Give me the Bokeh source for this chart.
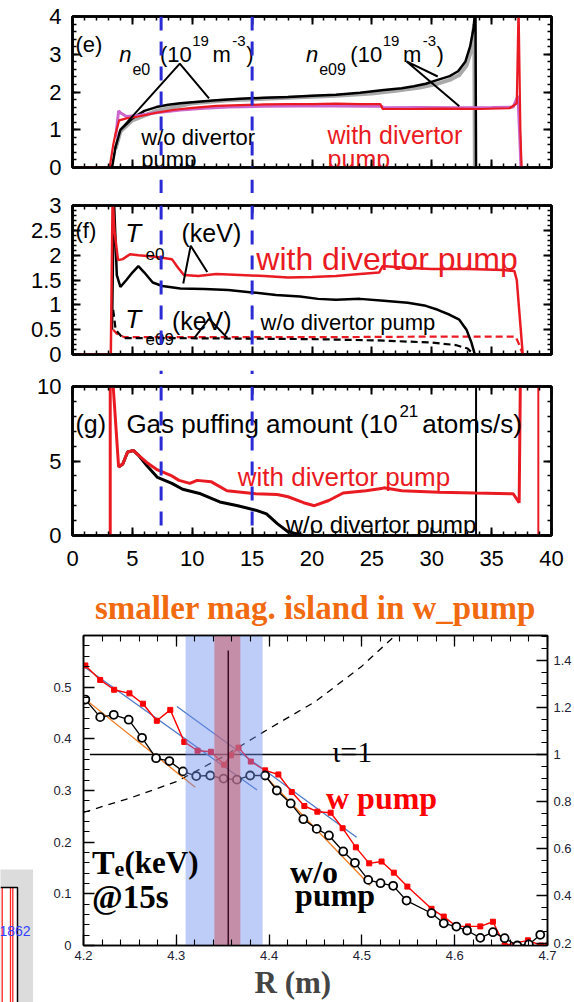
from bokeh.plotting import figure
from bokeh.models import (Range1d, LinearAxis, Span, SingleIntervalTicker,
                          CustomJSTickFormatter, Title, Spacer)
from bokeh.layouts import column, row
from bokeh.embed import file_html
from bokeh.resources import INLINE
from bokeh.core.properties import value

# ============================ DATA ============================
# ---- top panels: time traces, t in s ----
marker_times = [7.4, 15.0]                      # blue dashed time marks

# (e) line density n_e0 / n_e09 (10^19 m^-3)
ne0_wo_t = [3.3, 3.6, 4.0, 4.5, 5.0, 6.0, 7.0, 8.0, 9.0, 10.5, 12.0, 14.0, 16.0, 18.0, 20.0,
            22.0, 24.0, 26.0, 27.5, 28.5, 29.5, 30.5, 31.5, 32.2, 32.8, 33.2, 33.5, 33.65, 33.7]
ne0_wo = [0.0, 0.55, 1.0, 1.15, 1.3, 1.5, 1.6, 1.66, 1.7, 1.74, 1.78, 1.82, 1.85, 1.87, 1.9,
          1.93, 1.98, 2.05, 2.1, 2.15, 2.22, 2.32, 2.42, 2.55, 2.8, 3.2, 3.7, 4.3, 0.0]
ne09_wo_t = [3.6, 4.0, 5.0, 7.0, 10.0, 13.0, 16.0, 19.0, 22.0, 25.0, 27.0, 29.0, 30.5, 31.5,
             32.3, 32.9, 33.3, 33.55, 33.6]
ne09_wo = [0.5, 0.95, 1.25, 1.5, 1.7, 1.78, 1.82, 1.86, 1.9, 1.96, 2.03, 2.12, 2.22, 2.32,
           2.45, 2.7, 3.1, 3.8, 0.0]
ne0_w_t = [0.0, 3.1, 3.4, 3.6, 3.9, 4.5, 5.5, 7.0, 8.5, 10.0, 12.0, 14.0, 16.0, 18.0, 20.0,
           22.0, 24.0, 25.7, 25.9, 28.0, 31.0, 34.0, 36.5, 37.1, 37.25, 37.4, 37.5]
ne0_w = [0.0, 0.0, 0.6, 0.9, 1.25, 1.3, 1.35, 1.45, 1.53, 1.58, 1.63, 1.65, 1.67, 1.68, 1.68,
         1.69, 1.68, 1.68, 1.55, 1.55, 1.56, 1.55, 1.57, 1.7, 4.3, 1.0, 0.0]
ne09_w_t = [3.6, 3.85, 4.0, 4.5, 5.5, 7.0, 9.0, 11.0, 13.0, 16.0, 19.0, 22.0, 25.0, 25.8, 26.0,
            29.0, 32.0, 35.0, 36.8, 37.2, 37.35, 37.45]
ne09_w = [0.8, 1.5, 1.45, 1.35, 1.38, 1.45, 1.52, 1.57, 1.6, 1.62, 1.63, 1.63, 1.62, 1.62, 1.58,
          1.59, 1.58, 1.59, 1.6, 1.9, 0.8, 0.0]

# (f) electron temperature T_e0 / T_e09 (keV)
te0_w_t = [0.0, 3.2, 3.35, 3.5, 3.8, 4.2, 4.8, 5.5, 6.5, 7.5, 8.3, 8.8, 9.3, 10.5, 12.0, 14.0,
           16.0, 18.0, 20.0, 22.0, 24.0, 25.6, 25.9, 27.5, 30.0, 33.0, 36.0, 36.9, 37.1, 37.6]
te0_w = [0.0, 0.0, 3.2, 2.5, 1.9, 1.92, 2.02, 2.0, 1.98, 1.95, 1.92, 1.75, 1.6, 1.58, 1.62, 1.6,
         1.58, 1.55, 1.56, 1.58, 1.62, 1.65, 1.78, 1.75, 1.72, 1.72, 1.7, 1.68, 1.5, 0.0]
te0_wo_t = [3.3, 3.45, 3.7, 4.0, 4.5, 5.0, 5.5, 6.0, 6.7, 7.5, 9.0, 11.0, 13.0, 15.0, 17.0, 19.0,
            20.5, 22.0, 24.0, 26.0, 28.0, 29.5, 30.5, 31.5, 32.3, 32.9, 33.3, 33.6]
te0_wo = [0.5, 3.2, 1.6, 1.36, 1.5, 1.65, 1.78, 1.65, 1.45, 1.38, 1.33, 1.32, 1.3, 1.25, 1.2, 1.17,
          1.12, 1.1, 1.12, 1.08, 1.04, 0.98, 0.9, 0.8, 0.7, 0.5, 0.25, 0.0]
te09_w_t = [3.4, 3.7, 4.3, 8.0, 15.0, 22.0, 30.0, 37.0, 37.3, 37.6]
te09_w = [0.5, 0.42, 0.35, 0.35, 0.35, 0.35, 0.36, 0.36, 0.2, 0.0]
te09_wo_t = [3.4, 3.6, 4.2, 8.0, 14.0, 20.0, 26.0, 30.0, 32.0, 33.0, 33.5]
te09_wo = [0.9, 0.5, 0.33, 0.33, 0.32, 0.31, 0.28, 0.24, 0.19, 0.12, 0.0]

# (g) gas puffing amount (10^21 atoms/s)
gas_w_t = [3.15, 3.15, 3.4, 3.85, 4.2, 4.6, 5.1, 5.5, 6.2, 7.1, 8.3, 8.9, 9.8, 10.4, 11.6, 12.9,
           15.3, 17.1, 18.0, 19.3, 20.2, 21.4, 22.6, 24.5, 25.8, 26.0, 27.5, 30.6, 33.6, 36.8,
           37.3, 37.4]
gas_w = [0.0, 10.5, 10.0, 4.6, 4.8, 5.6, 5.7, 5.4, 4.9, 4.4, 4.0, 3.7, 3.5, 3.7, 3.6, 3.0,
         2.8, 2.75, 2.6, 2.2, 2.0, 2.35, 2.85, 3.0, 3.15, 3.2, 3.0, 2.9, 2.85, 2.8, 2.2, 10.5]
gas_w_stop_t = [38.9, 38.9]
gas_w_stop = [0.0, 10.5]
gas_wo_t = [3.85, 4.2, 4.6, 5.1, 5.5, 6.2, 7.1, 8.3, 9.2, 10.7, 12.3, 13.8, 15.3, 16.2, 17.1,
            18.0, 19.3]
gas_wo = [4.6, 4.8, 5.6, 5.7, 5.4, 4.7, 3.9, 3.5, 3.1, 2.8, 2.25, 2.0, 1.7, 1.45, 0.8, 0.25, 0.0]
gas_wo_stop_t = [33.7, 33.7]
gas_wo_stop = [0.0, 10.5]

# ---- bottom panel: Te profile at 15 s vs R (m) ----
wpump_R = [4.202, 4.218, 4.233, 4.2495, 4.264, 4.279, 4.2935, 4.3086, 4.3229, 4.3373, 4.3516,
           4.3588, 4.367, 4.3803, 4.3957, 4.41, 4.4244, 4.438, 4.452, 4.4663, 4.4792, 4.4935,
           4.5079, 4.5212, 4.5344, 4.549, 4.575, 4.5882, 4.6018, 4.6143, 4.6276, 4.6412,
           4.6538, 4.6789, 4.6932, 4.7]
wpump_Te = [0.542, 0.514, 0.495, 0.488, 0.468, 0.435, 0.456, 0.394, 0.377, 0.375, 0.350, 0.368,
            0.383, 0.356, 0.339, 0.331, 0.297, 0.270, 0.259, 0.257, 0.227, 0.190, 0.159, 0.1625,
            0.141, 0.114, 0.071, 0.056, 0.037, 0.037, 0.037, 0.046, 0.0, 0.010, 0.0, 0.0]
wopump_R = [4.202, 4.218, 4.2326, 4.2487, 4.2631, 4.2782, 4.2925, 4.3072, 4.3215, 4.3366, 4.3509,
            4.3653, 4.3796, 4.3957, 4.4083, 4.4233, 4.4369, 4.4513, 4.4645, 4.4799, 4.4925,
            4.5068, 4.5201, 4.5337, 4.5481, 4.575, 4.5882, 4.6018, 4.6133, 4.6276, 4.6412,
            4.6538, 4.6674, 4.6799, 4.6922]
wopump_Te = [0.476, 0.442, 0.4465, 0.437, 0.402, 0.3625, 0.357, 0.337, 0.328, 0.329, 0.323, 0.321,
             0.329, 0.329, 0.300, 0.275, 0.2445, 0.2257, 0.213, 0.182, 0.160, 0.127, 0.1206,
             0.1155, 0.087, 0.0625, 0.043, 0.0367, 0.029, 0.0148, 0.0258, 0.0142, 0.0, 0.002,
             0.0207]
# linear gradient fits
fit_w_a_R, fit_w_a_Te = [4.19, 4.387], [0.553, 0.301]
fit_w_b_R, fit_w_b_Te = [4.3007, 4.4943], [0.4626, 0.2097]
fit_wo_a_R, fit_wo_a_Te = [4.19, 4.3204], [0.4935, 0.3064]
fit_wo_b_R, fit_wo_b_Te = [4.394, 4.509], [0.331, 0.116]
# rotational transform profile (right axis)
iota_R = [4.2, 4.25, 4.3, 4.35, 4.4, 4.45, 4.5, 4.54]
iota = [0.755, 0.815, 0.885, 0.99, 1.11, 1.225, 1.375, 1.52]
iota_res = 1.0
iota_res_R = [4.207, 4.7]
# magnetic islands (R extent) and resonance position
island_wo = [4.31, 4.393]
island_w = [4.341, 4.369]
resonance_R = 4.356
resonance_top = 0.571

# ============================ STYLE ============================
SANS = "Liberation Sans"
SERIF = "Liberation Serif"
BLACK = "#000000"
RED = "#ea1a22"
GRAY = "#a9a9a9"
VIOLET = "#cc66cc"
DASHBLUE = "#2b2bd6"
fmt = CustomJSTickFormatter(code="return String(Math.round(tick*1000)/1000);")
blank = CustomJSTickFormatter(code="return '';")


def style_axis(ax, labels, size="22px", standoff=11, major_in=8, minor_in=4, lw=2.5,
               font=SANS, color=BLACK, tw=2.0, mtw=1.5):
    ax.axis_line_width = lw
    ax.major_tick_in = major_in
    ax.major_tick_out = 0
    ax.minor_tick_in = minor_in
    ax.minor_tick_out = 0
    ax.major_tick_line_width = tw
    ax.minor_tick_line_width = mtw
    if labels:
        ax.major_label_text_font = font
        ax.major_label_text_font_size = size
        ax.major_label_text_color = color
        ax.major_label_standoff = standoff
        ax.formatter = fmt
    else:
        ax.formatter = blank
        ax.major_label_text_font_size = "1px"
        ax.major_label_standoff = 0


def panel(width, height, border_left, border_top, border_bottom, y_end, y_step, x_labels):
    p = figure(width=width, height=height, x_range=Range1d(0, 40), y_range=Range1d(0, y_end),
               x_axis_location=None, y_axis_location=None, toolbar_location=None,
               output_backend="svg", min_border_left=border_left, min_border_right=23,
               min_border_top=border_top, min_border_bottom=border_bottom, title=None)
    p.grid.visible = False
    p.outline_line_color = BLACK
    p.outline_line_width = 2.5
    yt = SingleIntervalTicker(interval=y_step, num_minor_ticks=5)
    xt = SingleIntervalTicker(interval=5, num_minor_ticks=5)
    for side, lab in (("left", True), ("right", False)):
        ax = LinearAxis(ticker=yt)
        style_axis(ax, lab, standoff=11)
        p.add_layout(ax, side)
    for side, lab in (("below", x_labels), ("above", False)):
        ax = LinearAxis(ticker=xt)
        style_axis(ax, lab, standoff=15)
        p.add_layout(ax, side)
    return p


def add_marks(p):
    for t in marker_times:
        p.add_layout(Span(location=t, dimension="height", line_color=DASHBLUE,
                          line_width=3, line_dash="14 11", level="overlay"))


def txt(p, x, y, s, size, color=BLACK, font=SANS, style="normal", y_range_name="default"):
    p.text(x=[x], y=[y], text=[s], text_font=value(font), text_font_size=value(size),
           text_color=color, text_font_style=value(style), text_baseline=value("alphabetic"),
           text_align=value("left"), y_range_name=y_range_name)


def blank_fig(w, h, xr=None, bl=0, br=0, fill="white"):
    f = figure(width=w, height=h, x_range=xr if xr is not None else Range1d(0, w),
               y_range=Range1d(0, h), x_axis_location=None, y_axis_location=None,
               toolbar_location=None, output_backend="svg", min_border=0, min_border_left=bl,
               min_border_right=br, min_border_top=0, min_border_bottom=0, title=None,
               background_fill_color=fill, border_fill_color=fill)
    f.grid.visible = False
    f.outline_line_color = None
    return f


def gap_fig(h):
    g = blank_fig(574, h, xr=Range1d(0, 40), bl=72, br=23)
    add_marks(g)
    return g


# ---------------- panel (e) ----------------
fe = panel(560, 179, 58, 16, 12, 4, 1, False)
fe.line(ne09_wo_t, ne09_wo, line_color=GRAY, line_width=4)
fe.line(ne0_wo_t, ne0_wo, line_color=BLACK, line_width=2.5)
fe.line(ne09_w_t, ne09_w, line_color=VIOLET, line_width=3)
fe.line(ne0_w_t, ne0_w, line_color=RED, line_width=2.2)
fe.line([4.08, 8.96, 11.4], [1.03, 2.75, 1.83], line_color=BLACK, line_width=2)
fe.line([30.5, 27.9, 32.3], [2.41, 2.81, 1.62], line_color=BLACK, line_width=2)
txt(fe, 0.25, 3.25, "(e)", "22px")
for x0, sub in ((3.9, "e0"), (19.5, "e09")):
    txt(fe, x0, 3.0, "n", "22px", style="italic")
    txt(fe, x0 + 1.1, 2.62, sub, "16px")
for x0 in (7.3, 23.2):
    txt(fe, x0, 3.0, "(10", "22px")
    txt(fe, x0 + 2.7, 3.35, "19", "15px")
    txt(fe, x0 + 4.4, 3.0, "m", "22px")
    txt(fe, x0 + 6.05, 3.35, "-3", "15px")
    txt(fe, x0 + 7.2, 3.0, ")", "22px")
txt(fe, 5.75, 0.8, "w/o divertor", "22px")
txt(fe, 5.75, 0.22, "pump", "22px")
txt(fe, 21.3, 0.85, "with divertor", "25px", color=RED)
txt(fe, 21.3, 0.22, "pump", "25px", color=RED)
add_marks(fe)

# small teal mark at the left page edge
teal_bar = blank_fig(13, 6, fill="#00b992")
teal_col = column(Spacer(width=14, height=123), teal_bar, Spacer(width=14, height=50))

# ---------------- panel (f) ----------------
ff = panel(574, 173, 72, 12, 12, 3, 0.5, False)
ff.line(te09_w_t, te09_w, line_color=RED, line_width=2.2, line_dash="7 4")
ff.line(te09_wo_t, te09_wo, line_color=BLACK, line_width=2.2, line_dash="7 4")
ff.line(te0_wo_t, te0_wo, line_color=BLACK, line_width=2.5)
ff.line(te0_w_t, te0_w, line_color=RED, line_width=2.5)
ff.line([9.25, 9.87, 11.25], [1.43, 2.19, 1.66], line_color=BLACK, line_width=2)
ff.line([10.2, 11.4, 12.9], [0.34, 0.72, 0.34], line_color=BLACK, line_width=2)
txt(ff, 0.25, 2.5, "(f)", "22px")
txt(ff, 4.4, 2.44, "T", "26px", style="italic")
txt(ff, 6.1, 2.03, "e0", "17px")
txt(ff, 9.1, 2.44, "(keV)", "25px")
txt(ff, 4.4, 0.72, "T", "26px", style="italic")
txt(ff, 6.1, 0.32, "e09", "17px")
txt(ff, 8.3, 0.68, "(keV)", "25px")
txt(ff, 15.35, 1.93, "with divertor pump", "32px", color=RED)
txt(ff, 15.7, 0.64, "w/o divertor pump", "22px")
add_marks(ff)

# ---------------- panel (g) ----------------
fg = panel(574, 204, 72, 12, 43, 10, 5, True)
fg.line(gas_wo_stop_t, gas_wo_stop, line_color=BLACK, line_width=2)
fg.line(gas_wo_t, gas_wo, line_color=BLACK, line_width=3)
fg.line(gas_w_t, gas_w, line_color=RED, line_width=3)
fg.line(gas_w_stop_t, gas_w_stop, line_color=RED, line_width=2)
txt(fg, 0.25, 7.45, "(g)", "25px")
txt(fg, 4.5, 7.45, "Gas puffing amount (10", "26px")
txt(fg, 27.3, 8.35, "21", "17px")
txt(fg, 29.2, 7.45, "atoms/s)", "26px")
txt(fg, 13.8, 3.9, "with divertor pump", "26px", color=RED)
txt(fg, 17.8, 0.74, "w/o divertor pump", "24px")
add_marks(fg)

# ---------------- bottom: Te profile ----------------
ORANGE = "#f26a0f"
PRED = "#ff0000"
pb = figure(width=541, height=424, x_range=Range1d(4.2, 4.7), y_range=Range1d(0, 0.6),
            x_axis_location=None, y_axis_location=None, toolbar_location=None,
            output_backend="svg", min_border_left=50, min_border_right=26,
            min_border_top=57, min_border_bottom=57,
            title="smaller mag. island in w_pump")
pb.extra_y_ranges = {"iota": Range1d(0.19, 1.505)}
pb.grid.visible = False
pb.outline_line_color = BLACK
pb.outline_line_width = 1.5
pb.title.text_font = SERIF
pb.title.text_font_style = "bold"
pb.title.text_font_size = "33px"
pb.title.text_color = ORANGE
pb.title.align = "center"
pb.title.standoff = 19

lab_col = "#222233"
ax_l = LinearAxis(ticker=SingleIntervalTicker(interval=0.1, num_minor_ticks=5))
style_axis(ax_l, True, size="13px", standoff=12, major_in=11, minor_in=6, lw=1.5, color=lab_col,
           tw=1.3, mtw=1.1)
pb.add_layout(ax_l, "left")
ax_r = LinearAxis(y_range_name="iota", ticker=SingleIntervalTicker(interval=0.2, num_minor_ticks=4))
style_axis(ax_r, True, size="13px", standoff=6, major_in=11, minor_in=6, lw=1.5, color=lab_col,
           tw=1.3, mtw=1.1)
pb.add_layout(ax_r, "right")
ax_b = LinearAxis(ticker=SingleIntervalTicker(interval=0.1, num_minor_ticks=5))
style_axis(ax_b, True, size="13px", standoff=5, major_in=11, minor_in=6, lw=1.5, color=lab_col,
           tw=1.3, mtw=1.1)
pb.add_layout(ax_b, "below")
ax_t = LinearAxis(ticker=SingleIntervalTicker(interval=0.1, num_minor_ticks=5))
style_axis(ax_t, False, major_in=11, minor_in=6, lw=1.5, tw=1.3, mtw=1.1)
pb.add_layout(ax_t, "above")
pb.add_layout(Title(text="R (m)", align="left", offset=171, text_font=SERIF,
                    text_font_style="bold", text_font_size="31px", standoff=0), "below")

pb.line(iota_R, iota, y_range_name="iota", line_color=BLACK, line_width=1.3, line_dash="7 6")
pb.line(iota_res_R, [iota_res, iota_res], y_range_name="iota", line_color=BLACK, line_width=1.5)
pb.line(fit_w_a_R, fit_w_a_Te, line_color="#4a78c8", line_width=1.3)
pb.line(fit_w_b_R, fit_w_b_Te, line_color="#4a78c8", line_width=1.3)
pb.line(fit_wo_a_R, fit_wo_a_Te, line_color="#f07a20", line_width=1.3)
pb.line(fit_wo_b_R, fit_wo_b_Te, line_color="#f07a20", line_width=1.3)
pb.line(wpump_R, wpump_Te, line_color=PRED, line_width=1.4)
pb.scatter(wpump_R, wpump_Te, marker="square", size=5, fill_color=PRED, line_color=PRED)
pb.line(wopump_R, wopump_Te, line_color=BLACK, line_width=1.3)
pb.scatter(wopump_R, wopump_Te, marker="circle", size=8, fill_color="white",
           line_color=BLACK, line_width=1.8)
pb.quad(left=[island_wo[0]], right=[island_wo[1]], bottom=[0], top=[0.6],
        fill_color="#6f8ff0", fill_alpha=0.45, line_color=None)
pb.quad(left=[island_w[0]], right=[island_w[1]], bottom=[0], top=[0.6],
        fill_color="#c86473", fill_alpha=0.6, line_color=None)
pb.line([resonance_R, resonance_R], [0, resonance_top], line_color="#3a0c22", line_width=1.5)

txt(pb, 4.468, 0.376, "\u03b9=1", "30px", font=SERIF)
pb.text(x=[4.4613], y=[0.285], text=["w pump"], text_font=value(SERIF),
        text_font_size=value("32px"), text_font_style=value("bold"), text_color=PRED,
        text_baseline=value("alphabetic"))
for x0, y0, s in ((4.4226, 0.1413, "w/o"), (4.428, 0.0968, "pump")):
    pb.text(x=[x0], y=[y0], text=[s], text_font=value(SERIF), text_font_size=value("32px"),
            text_font_style=value("bold"), text_color=BLACK, text_baseline=value("alphabetic"))
pb.text(x=[4.2092], y=[0.1606], text=["T"], text_font=value(SERIF), text_font_size=value("34px"),
        text_font_style=value("bold"), text_baseline=value("alphabetic"))
pb.text(x=[4.2335], y=[0.149], text=["e"], text_font=value(SERIF), text_font_size=value("22px"),
        text_font_style=value("bold"), text_baseline=value("alphabetic"))
pb.text(x=[4.2441], y=[0.1606], text=["(keV)"], text_font=value(SERIF),
        text_font_size=value("31px"), text_font_style=value("bold"),
        text_baseline=value("alphabetic"))
pb.text(x=[4.2092], y=[0.093], text=["@15s"], text_font=value(SERIF),
        text_font_size=value("33px"), text_font_style=value("bold"),
        text_baseline=value("alphabetic"))

# fragment of a neighbouring plot at the lower left edge (pixel units, origin bottom-left)
frag = blank_fig(33, 133, fill="#dcdcdc")
frag.quad(left=[0], right=[17], bottom=[0], top=[115], fill_color="white", line_color=None)
frag.multi_line(xs=[[1.7, 1.7], [10, 10], [12.3, 12.3]], ys=[[0, 115]] * 3,
                line_color="#ff2020", line_width=1.3)
frag.line([0, 17, 17], [115, 115, 0], line_color=BLACK, line_width=1.5)
frag.text(x=[-1], y=[72], text=["1862"], text_font=value(SANS), text_font_size=value("14px"),
          text_color="#3040ff", text_baseline=value("alphabetic"))
frag_col = column(Spacer(width=33, height=291), frag)

layout = column(row(teal_col, fe), gap_fig(14), ff, gap_fig(8), fg, row(frag_col, pb))
open("out.html", "w").write(file_html(layout, INLINE))
